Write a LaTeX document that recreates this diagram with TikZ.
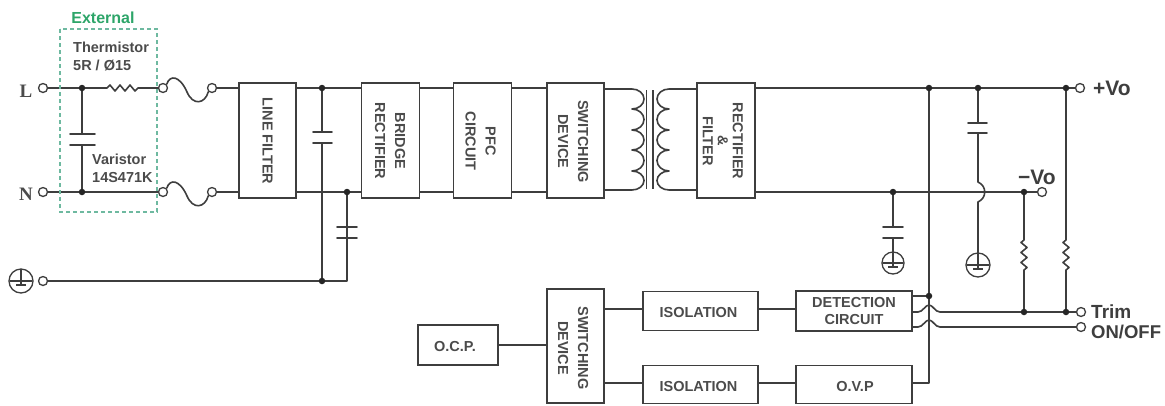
\documentclass[tikz,border=0pt]{standalone}
\usepackage{fontspec}
\setmainfont{Liberation Sans}
\newfontfamily\serifb{Liberation Serif}
\definecolor{ink}{RGB}{62,62,62}
\definecolor{txt}{RGB}{75,75,75}
\definecolor{grn}{RGB}{45,165,105}
\definecolor{dashg}{RGB}{110,185,160}
\tikzset{
 wire/.style={draw=ink,line width=1.6pt,line join=round},
 blockbox/.style={draw=ink,line width=1.6pt,fill=white,inner sep=0pt,rectangle},
 lbl/.style={text=txt,font=\fontsize{14.5}{20}\selectfont\bfseries,align=center,inner sep=0pt},
 vlbl/.style={lbl,rotate=-90},
 term/.style={circle,draw=ink,line width=1.3pt,fill=white,minimum size=9pt,inner sep=0pt},
 dotj/.style={circle,fill=black!85,minimum size=6.5pt,inner sep=0pt},
 big/.style={text=ink,font=\fontsize{21}{23}\selectfont\bfseries,inner sep=0pt,anchor=west},
 capplate/.style={wire,line cap=round},
 gnd/.style={draw=ink,line width=1.3pt},
}
\begin{document}
\begin{tikzpicture}[x=1pt,y=-1pt]
\useasboundingbox (0,0) rectangle (1165,405);
% terminals
\node[term] (tL) at (43,88) {};
\node[term] (tN) at (43,192) {};
\node[term] (tG) at (43,281) {};
\node[term] (fL1) at (163,88) {};
\node[term] (fL2) at (212,88) {};
\node[term] (fN1) at (163,192) {};
\node[term] (fN2) at (212,192) {};
\node[term] (tPlus) at (1080,88) {};
\node[term] (tMinus) at (1042,192) {};
\node[term] (tTrim) at (1081,312) {};
\node[term] (tOn) at (1081,327) {};
% blocks
\node[blockbox,minimum width=57pt,minimum height=115pt] (lf) at (267.5,140.5) {};
\node[blockbox,minimum width=58pt,minimum height=115pt] (br) at (390.5,140.5) {};
\node[blockbox,minimum width=58pt,minimum height=115pt] (pfc) at (482.5,140.5) {};
\node[blockbox,minimum width=57pt,minimum height=115pt] (sw) at (575.5,140.5) {};
\node[blockbox,minimum width=58pt,minimum height=115pt] (rf) at (726,140.5) {};
\node[blockbox,minimum width=57pt,minimum height=114pt] (sw2) at (575.5,346) {};
\node[blockbox,minimum width=80pt,minimum height=40pt] (ocp) at (458,345) {};
\node[blockbox,minimum width=115pt,minimum height=39pt] (iso1) at (700.5,311) {};
\node[blockbox,minimum width=115pt,minimum height=38pt] (iso2) at (700.5,384.5) {};
\node[blockbox,minimum width=116pt,minimum height=40pt] (det) at (854,311) {};
\node[blockbox,minimum width=116pt,minimum height=38pt] (ovp) at (854,384.5) {};
% coordinates
\coordinate (jL) at (82,88);
\coordinate (jN) at (82,192);
\coordinate (j1) at (322,88);
\coordinate (j1g) at (322,281);
\coordinate (j2) at (347,192);
\coordinate (j2g) at (347,281);
\coordinate (jt1) at (929,88);
\coordinate (jt2) at (978,88);
\coordinate (jt3) at (1066,88);
\coordinate (jb1) at (893,192);
\coordinate (jb2) at (1024,192);
\coordinate (jd) at (929,296);
\coordinate (jr1) at (1024,312);
\coordinate (jr2) at (1066,312);
% wires
\draw[wire] (tL) -- (jL) -- (107,88) -- ++(3,-3) -- ++(5,6) -- ++(5,-6) -- ++(5,6) -- ++(5,-6) -- ++(5,6) -- ++(3,-3) -- (fL1);
\draw[wire] (tN) -- (fN1);
\draw[wire] (tG) -- (j2g) -- (j2);
\draw[wire] (jL) -- (82,134) (82,145) -- (jN);
\draw[capplate] (70,134) -- (95,134) (70,145) -- (95,145);
% fuses
\draw[wire] (fL1.north east) .. controls (170,74) and (180,76) .. (187,92) .. controls (193,106) and (205,104) .. (fL2.south west);
\draw[wire] (fN1.north east) .. controls (170,178) and (180,180) .. (187,196) .. controls (193,210) and (205,208) .. (fN2.south west);
\draw[wire] (fL2) -- (lf.west |- fL2);
\draw[wire] (fN2) -- (lf.west |- fN2);
% main rails
\draw[wire] (lf.east |- j1) -- (br.west |- j1);
\draw[wire] (lf.east |- j2) -- (br.west |- j2);
\draw[wire] (j1) -- (322,132) (322,143) -- (j1g);
\draw[capplate] (313,132) -- (332,132) (313,143) -- (332,143);
\draw[wire] (j2) -- (347,227) (347,238) -- (j2g);
\draw[capplate] (337,227) -- (357,227) (337,238) -- (357,238);
\draw[wire] (br.east |- j1) -- (pfc.west |- j1) (br.east |- j2) -- (pfc.west |- j2);
\draw[wire] (pfc.east |- j1) -- (sw.west |- j1) (pfc.east |- j2) -- (sw.west |- j2);
% transformer
\draw[wire] (sw.east |- 0,89) -- (632,89)
  arc[start angle=90,end angle=-90,x radius=12pt,y radius=10pt]
  arc[start angle=90,end angle=-90,x radius=12pt,y radius=10.5pt]
  arc[start angle=90,end angle=-90,x radius=12pt,y radius=10pt]
  arc[start angle=90,end angle=-90,x radius=12pt,y radius=10.5pt]
  arc[start angle=90,end angle=-90,x radius=12pt,y radius=9.5pt]
  -- (sw.east |- 0,190);
\draw[wire] (rf.west |- 0,89) -- (669,89)
  arc[start angle=90,end angle=270,x radius=12pt,y radius=10pt]
  arc[start angle=90,end angle=270,x radius=12pt,y radius=10.5pt]
  arc[start angle=90,end angle=270,x radius=12pt,y radius=10pt]
  arc[start angle=90,end angle=270,x radius=12pt,y radius=10.5pt]
  arc[start angle=90,end angle=270,x radius=12pt,y radius=9.5pt]
  -- (rf.west |- 0,190);
\draw[wire] (646.5,90) -- (646.5,189) (653,90) -- (653,189);
% right rails
\draw[wire] (rf.east |- 0,88) -- (tPlus);
\draw[wire] (rf.east |- 0,192) -- (tMinus);
\draw[wire] (jt1) -- (929,383) -- (ovp.east |- 0,383);
% right cap with jump
\draw[wire] (jt2) -- (978,123) (978,133) -- (978,182) .. controls (987,186) and (987,198) .. (978,202) -- (978,253);
\draw[capplate] (968,123) -- (987,123) (968,133) -- (987,133);
\draw[wire] (jb1) -- (893,227) (893,238) -- (893,252);
\draw[capplate] (883,227) -- (903,227) (883,238) -- (903,238);
% grounds
\foreach \cx/\cy/\r in {893/263/11,978/265/12,21/281/12}{
 \draw[gnd,fill=white] (\cx,\cy) circle[radius=\r];
 \draw[gnd] (\cx,\cy-\r) -- (\cx,\cy+4);
 \draw[gnd] (\cx-\r+1,\cy) -- (\cx+\r-1,\cy) (\cx-5,\cy+4) -- (\cx+5,\cy+4);
}
% resistors
\draw[wire] (jb2) -- (1024,240) -- ++(-3,2.5) -- ++(6,5) -- ++(-6,5) -- ++(6,5) -- ++(-6,5) -- ++(6,5) -- ++(-3,2.5) -- (jr1);
\draw[wire] (jt3) -- (1066,240) -- ++(-3,2.5) -- ++(6,5) -- ++(-6,5) -- ++(6,5) -- ++(-6,5) -- ++(6,5) -- ++(-3,2.5) -- (jr2);
% bottom wires
\draw[wire] (ocp.east) -- (sw2.west |- ocp.east);
\draw[wire] (sw2.east |- 0,309) -- (iso1.west |- 0,309);
\draw[wire] (sw2.east |- 0,383) -- (iso2.west |- 0,383);
\draw[wire] (iso1.east |- 0,309) -- (det.west |- 0,309);
\draw[wire] (iso2.east |- 0,383) -- (ovp.west |- 0,383);
\draw[wire] (det.east |- jd) -- (jd);
\draw[wire] (det.east |- 0,312) -- (918,312) .. controls (923,312) and (925,305) .. (929,305) .. controls (933,305) and (935,312) .. (940,312) -- (tTrim);
\draw[wire] (det.east |- 0,327) -- (918,327) .. controls (923,327) and (925,320) .. (929,320) .. controls (933,320) and (935,327) .. (940,327) -- (tOn);
% junction dots
\foreach \p/\n in {jL/a,jN/b,j1/c,j1g/d,j2/e,jt1/f,jt2/g,jt3/h,jb1/i,jb2/k,jd/l,jr1/m,jr2/n}{\node[dotj] (d\n) at (\p) {};}
% external
\draw[draw=dashg,line width=1.2pt,dash pattern=on 4pt off 3pt] (60,29) rectangle (157,212);
\node[text=grn,font=\fontsize{16}{18}\selectfont\bfseries,inner sep=0pt] (ext) at (103,18) {External};
\node[lbl,align=left,anchor=west,font=\fontsize{14.5}{18}\selectfont\bfseries] (th) at (73,57) {Thermistor\\5R / Ø15};
\node[lbl,align=left,anchor=west,font=\fontsize{14.5}{18}\selectfont\bfseries] (va) at (92,168) {Varistor\\14S471K};
% terminal labels
\node[text=txt,font=\fontsize{19}{21}\selectfont\bfseries\serifb,inner sep=0pt] (lL) at (26,91) {L};
\node[text=txt,font=\fontsize{19}{21}\selectfont\bfseries\serifb,inner sep=0pt] (lN) at (26,194) {N};
\node[big] (lP) at (1093,88) {+Vo};
\node[big] (lM) at (1018,177) {−Vo};
\node[big,font=\fontsize{19}{21}\selectfont\bfseries] (lT) at (1091,312) {Trim};
\node[big,font=\fontsize{18.5}{21}\selectfont\bfseries] (lO) at (1091,332) {ON/OFF};
% block labels
\node[vlbl] (t1) at (267.5,141) {LINE FILTER};
\node[vlbl] (t2) at (390,141) {BRIDGE\\RECTIFIER};
\node[vlbl] (t3) at (480.5,141) {PFC\\CIRCUIT};
\node[vlbl] (t4) at (573,141.5) {SWITCHING\\DEVICE};
\node[vlbl,font=\fontsize{14.5}{15}\selectfont\bfseries] (t5) at (723,141) {RECTIFIER\\\&\\FILTER};
\node[vlbl] (t6) at (573,348) {SWITCHING\\DEVICE};
\node[lbl] (t7) at (455,347) {O.C.P.};
\node[lbl] (t8) at (698.5,313) {ISOLATION};
\node[lbl] (t9) at (698.5,387) {ISOLATION};
\node[lbl,font=\fontsize{14.5}{17}\selectfont\bfseries] (t10) at (854,311.5) {DETECTION\\CIRCUIT};
\node[lbl] (t11) at (855,387) {O.V.P};
\end{tikzpicture}
\end{document}
